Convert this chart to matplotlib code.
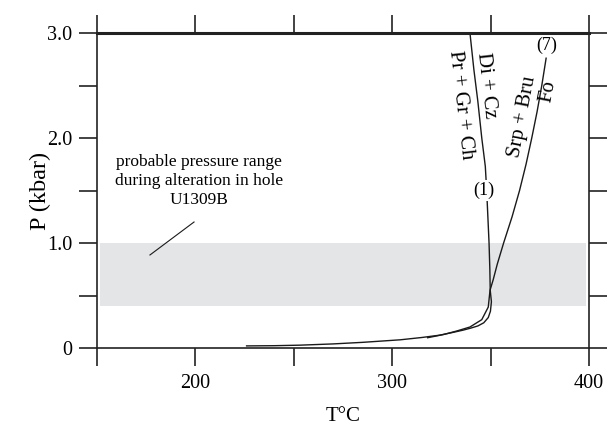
import matplotlib
matplotlib.use("Agg")
from matplotlib import pyplot as plt

# reaction (1): Pr + Gr + Ch = Di + Cz
t_r1 = [339.5, 341.5, 343.5, 345.5, 347.3, 348.0, 348.6, 349.2, 349.6, 349.8,
        350.4, 349.9, 348.8, 346.5, 343.5, 340.0, 336.0, 330.0, 324.0, 315.0,
        304.0, 285.0, 270.0, 253.0, 240.0, 226.0]
p_r1 = [3.0, 2.65, 2.35, 2.0, 1.73, 1.5, 1.25, 1.0, 0.75, 0.55,
        0.44, 0.35, 0.29, 0.24, 0.21, 0.19, 0.17, 0.145, 0.122, 0.1,
        0.078, 0.054, 0.039, 0.027, 0.022, 0.02]

# reaction (7): Srp + Bru = Fo
t_r7 = [378.2, 376.0, 373.6, 370.9, 368.0, 364.7, 360.9, 356.6, 353.4, 351.3,
        349.7, 348.8, 345.5, 339.5, 332.8, 326.0, 318.0]
p_r7 = [2.76, 2.5, 2.25, 2.0, 1.75, 1.5, 1.25, 1.0, 0.8, 0.65,
        0.55, 0.39, 0.27, 0.20, 0.162, 0.128, 0.098]

# probable pressure range (kbar) and its T extent
band_t = [151.5, 398.5]
band_p = [0.4, 1.0]

x_ticks = [150, 200, 250, 300, 350, 400]
x_labels = ["", "200", "", "300", "", "400"]
y_ticks = [0, 0.5, 1.0, 1.5, 2.0, 2.5, 3.0]
y_labels = ["0", "", "1.0", "", "2.0", "", "3.0"]

plt.rcParams['font.family'] = ['Liberation Serif', 'DejaVu Serif']

fig = plt.figure(figsize=(6.09, 4.28), dpi=100)
ax = fig.add_axes([0.1593, 0.1869, 0.8079, 0.736])

ax.fill_between(band_t, band_p[0], band_p[1], color='#e4e5e7', lw=0, zorder=0)

ax.plot(t_r1, p_r1, color='#1a1a1a', lw=1.0, zorder=2)
ax.plot(t_r7, p_r7, color='#1a1a1a', lw=1.0, zorder=2)

# reaction labels
ax.text(346.6, 1.5, "(1)", fontsize=13, ha='center', va='center', zorder=3,
        bbox=dict(facecolor='white', edgecolor='none', pad=1.5))
ax.text(378.7, 2.88, "(7)", fontsize=13, ha='center', va='center', zorder=3)
ax.text(347.8, 2.5, "Di + Cz", fontsize=15, rotation=-83.5,
        ha='center', va='center', rotation_mode='anchor')
ax.text(335.0, 2.31, "Pr + Gr + Ch", fontsize=15, rotation=-83.5,
        ha='center', va='center', rotation_mode='anchor')
ax.text(366.0, 2.2, "Srp + Bru", fontsize=15, rotation=79,
        ha='center', va='center', rotation_mode='anchor')
ax.text(379.4, 2.44, "Fo", fontsize=15, rotation=79,
        ha='center', va='center', rotation_mode='anchor')

# annotation for the grey band
ax.text(202, 1.59, "probable pressure range\nduring alteration in hole\nU1309B",
        fontsize=12.5, ha='center', va='center', linespacing=1.25)
ax.plot([199.3, 176.9], [1.2, 0.886], color='#1a1a1a', lw=0.8)

ax.set_xlim(150, 400)
ax.set_ylim(0, 3.0)
ax.set_xticks(x_ticks)
ax.set_xticklabels(x_labels)
ax.set_yticks(y_ticks)
ax.set_yticklabels(y_labels)
ax.tick_params(direction='out', length=13, width=1.2, labelsize=14.5,
               top=True, right=True, pad=6, color='#222222')
ax.tick_params(axis='y', pad=5)

for side in ['left', 'right', 'bottom']:
    ax.spines[side].set_linewidth(1.2)
    ax.spines[side].set_color('#222222')
ax.spines['top'].set_linewidth(2.2)
ax.spines['top'].set_color('#222222')

ax.set_xlabel("T°C", fontsize=15, labelpad=10)
ax.set_ylabel("P (kbar)", fontsize=17.5, labelpad=-3)

fig.savefig("out.png", dpi=100)
